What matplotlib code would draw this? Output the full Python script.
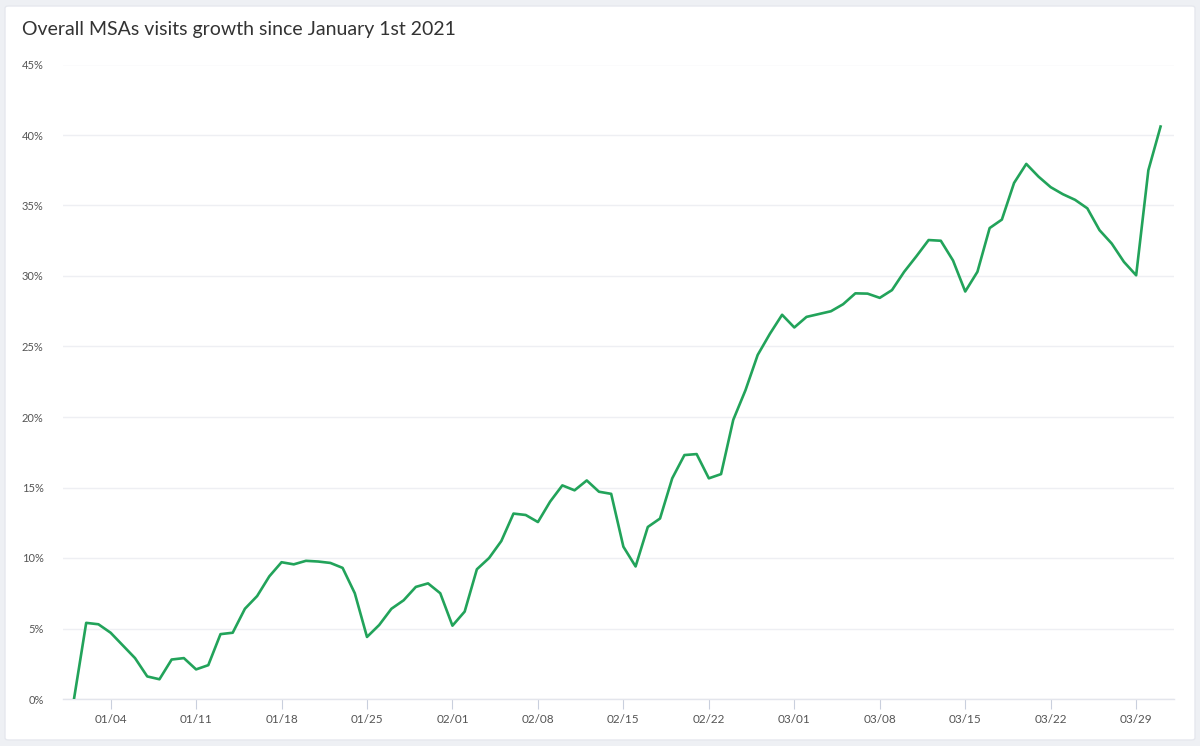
import matplotlib
matplotlib.use("Agg")
import matplotlib.pyplot as plt
from matplotlib.patches import FancyBboxPatch
import numpy as np
import pandas as pd

title = "Overall MSAs visits growth since January 1st 2021"
start_date = "2021-01-01"
growth_pct = [
    0.0, 5.4, 5.3, 4.7, 3.8, 2.9, 1.6, 1.4, 2.8, 2.9,
    2.1, 2.4, 4.6, 4.7, 6.4, 7.3, 8.7, 9.7, 9.55, 9.8,
    9.75, 9.65, 9.3, 7.5, 4.4, 5.25, 6.4, 7.0, 7.95, 8.2,
    7.5, 5.2, 6.2, 9.2, 10.0, 11.2, 13.15, 13.05, 12.55, 14.0,
    15.15, 14.8, 15.5, 14.7, 14.55, 10.8, 9.4, 12.2, 12.8, 15.65,
    17.3, 17.37, 15.65, 15.95, 19.8, 21.9, 24.4, 25.9, 27.25, 26.35,
    27.1, 27.3, 27.5, 28.0, 28.77, 28.75, 28.45, 29.0, 30.3, 31.4,
    32.55, 32.5, 31.1, 28.9, 30.3, 33.4, 34.0, 36.6, 37.95, 37.05,
    36.3, 35.8, 35.4, 34.8, 33.25, 32.3, 31.0, 30.05, 37.5, 40.6,
]
y_ticks = [0, 5, 10, 15, 20, 25, 30, 35, 40, 45]
x_tick_labels = ["01/04", "01/11", "01/18", "01/25", "02/01", "02/08", "02/15",
                 "02/22", "03/01", "03/08", "03/15", "03/22", "03/29"]

days = np.arange(len(growth_pct))
t0 = pd.Timestamp(start_date)
tick_days = [(pd.Timestamp("2021/" + s) - t0).days for s in x_tick_labels]

plt.rcParams["font.family"] = ["Lato", "DejaVu Sans"]

fig = plt.figure(figsize=(12, 7.46), dpi=100)
fig.patch.set_facecolor("#eef0f4")
card = FancyBboxPatch((5 / 1200, 6 / 746), 1190 / 1200, 734 / 746,
                      boxstyle="round,pad=0,rounding_size=0.003",
                      transform=fig.transFigure, facecolor="white",
                      edgecolor="#e6e8ee", linewidth=1.0, zorder=-10)
fig.patches.append(card)

ax = fig.add_axes([63 / 1200, 1 - 699 / 746, (1174 - 63) / 1200, (699 - 64.5) / 746])
ax.set_zorder(5)
ax.set_facecolor("none")
ax.plot(days, growth_pct, color="#22a35a", linewidth=1.9, solid_joinstyle="round", zorder=3)

ax.set_xlim(-0.9, 90.1)
ax.set_ylim(0, 45)
ax.set_yticks(y_ticks)
ax.set_yticklabels([f"{v}%" for v in y_ticks])
ax.set_xticks(tick_days)
ax.set_xticklabels(x_tick_labels)

ax.grid(axis="y", color="#eeeff3", linewidth=1.0, zorder=0)
ax.grid(axis="x", visible=False)
for s in ["top", "right", "left"]:
    ax.spines[s].set_visible(False)
ax.spines["bottom"].set_color("#e3e5ec")
ax.spines["bottom"].set_linewidth(1.0)

ax.tick_params(axis="y", length=0, pad=14, labelsize=8, labelcolor="#555555")
ax.tick_params(axis="x", length=7, width=0.8, color="#c9cfdd", pad=4,
               labelsize=8.5, labelcolor="#555555", direction="out")

fig.text(22 / 1200, 1 - 30 / 746, title, fontsize=14, color="#333333",
         ha="left", va="center")

fig.savefig("out.png", dpi=100, facecolor=fig.get_facecolor())
